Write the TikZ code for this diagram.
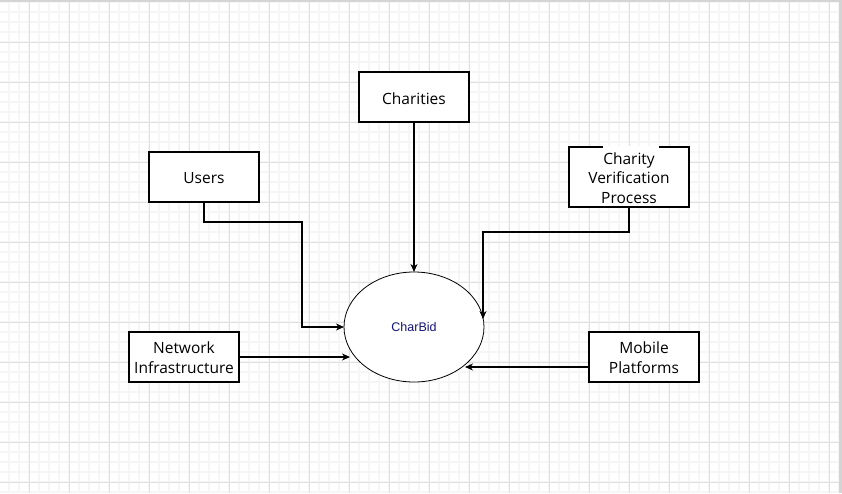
\documentclass[tikz,border=0pt]{standalone}
\usepackage{fontspec}
\setmainfont{Open Sans}
\newfontfamily\labelfont{Liberation Sans}
\usetikzlibrary{arrows.meta,shapes.geometric}
\definecolor{minorgrid}{RGB}{246,246,246}
\definecolor{majorgrid}{RGB}{224,224,224}
\definecolor{framegray}{RGB}{212,212,212}
\definecolor{bidtext}{RGB}{20,20,120}
\tikzset{
  box/.style={draw=black, line width=1.1pt, fill=white, minimum width=110pt, minimum height=50pt, inner sep=0pt, outer sep=0pt},
  boxtext/.style={align=center, inner sep=0pt, font=\fontsize{15.5}{20}\selectfont},
  arr/.style={draw=black, line width=1.1pt, -{Stealth[length=8pt,width=7pt,inset=2.5pt]}},
}
\begin{document}
\begin{tikzpicture}[x=1pt,y=-1pt]
\useasboundingbox (0,0) rectangle (842,493);
\fill[white] (0,0) rectangle (842,493);
% grid
\foreach \x in {9,19,...,839} {\draw[minorgrid, line width=1.2pt] (\x,2) -- (\x,493);}
\foreach \y in {2,12,...,492} {\draw[minorgrid, line width=1.2pt] (0,\y) -- (839,\y);}
\foreach \x in {29,69,...,829} {\draw[majorgrid, line width=0.8pt] (\x,2) -- (\x,493);}
\foreach \y in {42,82,...,482} {\draw[majorgrid, line width=0.8pt] (0,\y) -- (839,\y);}
\fill[framegray] (0,0) rectangle (842,2);
\fill[framegray] (839,0) rectangle (842,493);
% nodes
\node[box] (users) at (204,177) {};
\node[boxtext] at (204,178.5) {Users};
\node[box] (charities) at (414,97) {};
\node[boxtext] at (414,98.5) {Charities};
\node[box, minimum width=120pt, minimum height=60pt] (cvp) at (629,177) {};
\fill[white] (603,145.5) rectangle (659,148.5);
\node[boxtext, font=\fontsize{15.5}{19.5}\selectfont] (cvptext) at (629,178) {Charity\\Verification\\Process};
\node[box] (net) at (184,357) {};
\node[boxtext] at (184,358) {Network\\Infrastructure};
\node[box] (mob) at (644,357) {};
\node[boxtext] at (644,358) {Mobile\\Platforms};
\node[draw=black, line width=0.8pt, ellipse, minimum width=140pt, minimum height=110pt, inner sep=0pt, outer sep=0pt, fill=white, font=\labelfont\fontsize{12.5}{14}\selectfont, text=bidtext] (charbid) at (414,327) {CharBid};
% connector end points
\coordinate (cvpin) at (483,319);
\coordinate (netin) at (350,357);
\coordinate (mobin) at (465,367);
% connectors
\draw[arr] (users.south) -- ++(0,20) -| (302,327) -- (charbid.west);
\draw[arr] (charities.south) -- (charbid.north);
\draw[arr] (cvp.south) -- ++(0,25) -| (cvpin);
\draw[arr] (net.east) -- (netin);
\draw[arr] ([yshift=-10pt]mob.west) -- (mobin);
\end{tikzpicture}
\end{document}
